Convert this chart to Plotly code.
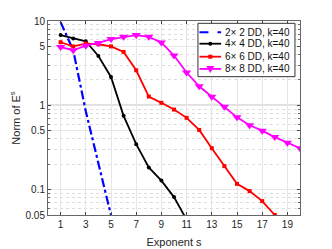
import plotly.graph_objects as go

s_blue = [1, 2, 3, 4, 5, 6]
v_blue = [9.7, 4.5, 0.85, 0.2, 0.05, 0.012]

s_black = [1, 2, 3, 4, 5, 6, 7, 8, 9, 10, 11]
v_black = [6.8, 6.2, 5.75, 3.85, 2.17, 0.75, 0.346, 0.183, 0.128, 0.0815, 0.044]

s_red = [1, 2, 3, 4, 5, 6, 7, 8, 9, 10, 11, 12, 13, 14, 15, 16, 17, 18]
v_red = [5.6, 5.0, 5.4, 5.3, 5.0, 4.3, 2.6, 1.27, 1.07, 0.89, 0.71, 0.51, 0.31, 0.19, 0.117, 0.096, 0.073, 0.05]

s_mag = list(range(1, 21))
v_mag = [4.9, 4.5, 5.1, 5.5, 6.1, 6.5, 6.8, 6.5, 5.55, 3.9, 2.45, 1.68, 1.26, 0.96, 0.72, 0.58, 0.50, 0.42, 0.36, 0.31]

names = ["2× 2 DD, k=40", "4× 4 DD, k=40", "6× 6 DD, k=40", "8× 8 DD, k=40"]
colors = ["#0000ff", "#000000", "#ff0000", "#ff00ff"]

x_ticks = [1, 3, 5, 7, 9, 11, 13, 15, 17, 19]
y_ticks = [0.05, 0.1, 0.5, 1, 5, 10]
y_ticktext = ["0.05", "0.1", "0.5", "1", "5", "10"]

fig = go.Figure()
fig.add_trace(go.Scatter(x=s_blue, y=v_blue, mode="lines", name=names[0],
                         line=dict(color=colors[0], width=2.2, dash="dashdot")))
fig.add_trace(go.Scatter(x=s_black, y=v_black, mode="lines+markers", name=names[1],
                         line=dict(color=colors[1], width=1.8),
                         marker=dict(symbol="circle", size=4, color=colors[1])))
fig.add_trace(go.Scatter(x=s_red, y=v_red, mode="lines+markers", name=names[2],
                         line=dict(color=colors[2], width=1.8),
                         marker=dict(symbol="square", size=4, color=colors[2])))
fig.add_trace(go.Scatter(x=s_mag, y=v_mag, mode="lines+markers", name=names[3],
                         line=dict(color=colors[3], width=1.8),
                         marker=dict(symbol="triangle-down", size=8, color=colors[3])))

fig.add_hline(y=1, line=dict(color="#808080", width=1.2), layer="below")

# compact legend box (MATLAB style)
lx0, lx1, ly0, ly1 = 0.595, 0.980, 0.713, 0.988
fig.add_shape(type="rect", xref="paper", yref="paper", x0=lx0, x1=lx1, y0=ly0, y1=ly1,
              line=dict(color="#333333", width=1), fillcolor="white", layer="above")
entry_y = [0.942, 0.883, 0.816, 0.753]
sx0, sx1, tx = 0.601, 0.687, 0.694
dashes = ["dash", "solid", "solid", "solid"]
for i in range(4):
    fig.add_shape(type="line", xref="paper", yref="paper", x0=sx0, x1=sx1,
                  y0=entry_y[i], y1=entry_y[i], layer="above",
                  line=dict(color=colors[i], width=2 if i == 0 else 1.8, dash=dashes[i]))
    fig.add_annotation(xref="paper", yref="paper", x=tx, y=entry_y[i], text=names[i],
                       showarrow=False, xanchor="left", yanchor="middle",
                       font=dict(size=10, color="#111111"))
xm = (sx0 + sx1) / 2
fig.add_shape(type="circle", xref="paper", yref="paper", xsizemode="pixel", ysizemode="pixel",
              xanchor=xm, yanchor=entry_y[1], x0=-2, x1=2, y0=-2, y1=2,
              fillcolor=colors[1], line=dict(color=colors[1], width=0), layer="above")
fig.add_shape(type="rect", xref="paper", yref="paper", xsizemode="pixel", ysizemode="pixel",
              xanchor=xm, yanchor=entry_y[2], x0=-2, x1=2, y0=-2, y1=2,
              fillcolor=colors[2], line=dict(color=colors[2], width=0), layer="above")
fig.add_shape(type="path", xref="paper", yref="paper", xsizemode="pixel", ysizemode="pixel",
              xanchor=xm, yanchor=entry_y[3], path="M -4 3 L 4 3 L 0 -4 Z",
              fillcolor=colors[3], line=dict(color=colors[3], width=0), layer="above")

font = "Liberation Sans, Arial, sans-serif"
fig.update_layout(
    width=324, height=241,
    margin=dict(l=40, r=32, t=13, b=34, autoexpand=False),
    paper_bgcolor="white", plot_bgcolor="white",
    font=dict(family=font, size=10, color="#262626"),
    showlegend=False,
)
fig.update_xaxes(
    range=[0, 20], tickvals=x_ticks, ticks="inside", ticklen=3,
    showline=True, linecolor="#666666", linewidth=1, mirror="allticks",
    showgrid=True, gridcolor="#e6e6e6", gridwidth=1, zeroline=False,
    automargin=False,
    title=dict(text="Exponent s", font=dict(size=11), standoff=9),
    tickfont=dict(size=10),
)
fig.update_yaxes(
    type="log", range=[-1.30103, 1], tickvals=y_ticks, ticktext=y_ticktext,
    ticks="inside", ticklen=3,
    showline=True, linecolor="#666666", linewidth=1, mirror="allticks",
    showgrid=True, gridcolor="#e6e6e6", gridwidth=1, zeroline=False,
    automargin=False,
    minor=dict(dtick="D1", showgrid=True, gridcolor="#dddddd", griddash="dot",
               ticks="inside", ticklen=2, tickcolor="#666666"),
    title=dict(text="Norm of E<sup>s</sup>", font=dict(size=11), standoff=9),
    tickfont=dict(size=10),
)

fig.write_html("out.html")
